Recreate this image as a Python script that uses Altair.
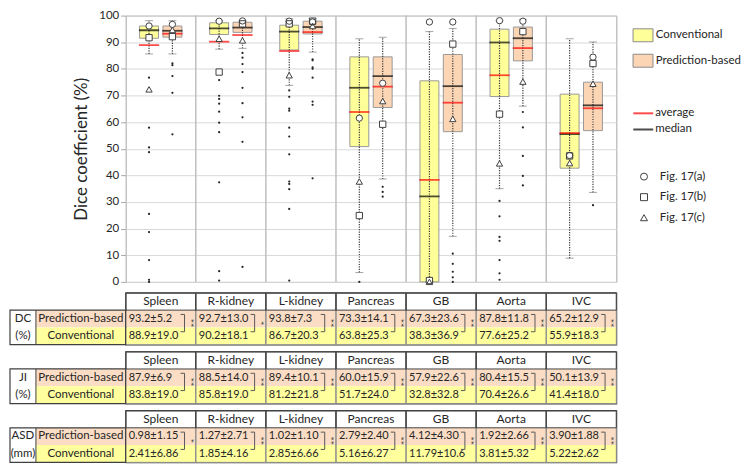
import altair as alt
import pandas as pd

FONT = "Lato"
organs = ["Spleen", "R-kidney", "L-kidney", "Pancreas", "GB", "Aorta", "IVC"]
methods = ["Conventional", "Prediction-based"]
stats_names = ["average", "median"]
figs = ["Fig. 17(a)", "Fig. 17(b)", "Fig. 17(c)"]
fig_shapes = ["circle", "square", "triangle-up"]

# ---- box-plot statistics (Dice coefficient, %) ----
conv_whisker_low = [85.6, 87.4, 73.8, 3.5, 0.0, 35.0, 8.9]
conv_q1 = [91.5, 92.9, 87.1, 50.8, 0.0, 69.6, 42.7]
conv_median = [94.5, 95.2, 94.0, 72.9, 32.1, 89.9, 55.5]
conv_q3 = [96.1, 97.3, 96.4, 84.5, 75.5, 94.9, 70.5]
conv_whisker_high = [98.1, 98.1, 98.8, 91.3, 94.0, 98.1, 91.3]
conv_average = [88.9, 90.2, 86.7, 63.8, 38.3, 77.6, 55.9]

pred_whisker_low = [85.6, 87.7, 86.3, 38.6, 17.1, 66.0, 33.6]
pred_q1 = [91.9, 93.7, 93.1, 65.5, 56.4, 83.0, 56.8]
pred_median = [94.3, 95.5, 95.7, 77.3, 73.5, 91.5, 66.3]
pred_q3 = [96.1, 97.5, 97.9, 84.5, 85.4, 95.7, 75.0]
pred_whisker_high = [98.1, 97.9, 99.0, 91.9, 95.2, 98.5, 90.1]
pred_average = [93.2, 92.7, 93.8, 73.3, 67.3, 87.8, 65.2]

# ---- cases shown in Fig. 17 ----
conv_fig_a = [96.1, 97.9, 97.9, 61.5, 97.6, 98.1, 47.5]
conv_fig_b = [91.7, 78.8, 96.9, 24.9, 0.5, 63.0, 47.3]
conv_fig_c = [72.3, 91.3, 77.6, 37.7, 0.0, 44.5, 44.6]
pred_fig_a = [96.7, 98.0, 97.6, 74.6, 97.6, 97.9, 84.4]
pred_fig_b = [92.1, 96.9, 97.9, 59.2, 89.3, 94.0, 82.0]
pred_fig_c = [94.6, 90.7, 96.1, 67.9, 61.2, 75.2, 74.4]

# ---- individual cases outside the whiskers ----
conv_outliers = {
    "Spleen": [76.7, 57.9, 50.5, 48.7, 25.5, 18.7, 8.2, 0.8, 0.0],
    "R-kidney": [75.8, 69.9, 68.7, 66.9, 63.9, 59.8, 56.2, 37.4, 4.0, 0.5],
    "L-kidney": [71.9, 69.5, 65.1, 64.3, 57.9, 54.6, 47.9, 37.7, 36.8, 34.8, 27.4, 0.5],
    "Pancreas": [0.0],
    "GB": [],
    "Aorta": [30.4, 24.6, 16.9, 15.4, 8.2, 3.2, 0.8],
    "IVC": [],
}
pred_outliers = {
    "Spleen": [82.1, 81.4, 77.3, 71.0, 55.4],
    "R-kidney": [86.0, 84.2, 81.8, 78.8, 72.9, 67.1, 61.8, 52.6, 5.6],
    "L-kidney": [83.6, 83.2, 80.6, 80.0, 76.7, 67.7, 66.5, 38.9],
    "Pancreas": [35.7, 33.8, 32.0],
    "GB": [10.6, 6.8, 3.8, 1.7, 0.0],
    "Aorta": [63.8, 58.0, 47.3, 39.8, 36.2],
    "IVC": [28.8],
}

# ---- tables ----
dc_pred = ["93.2±5.2", "92.7±13.0", "93.8±7.3", "73.3±14.1", "67.3±23.6", "87.8±11.8", "65.2±12.9"]
dc_conv = ["88.9±19.0", "90.2±18.1", "86.7±20.3", "63.8±25.3", "38.3±36.9", "77.6±25.2", "55.9±18.3"]
dc_sig = ["**", "*", "**", "**", "**", "**", "**"]
ji_pred = ["87.9±6.9", "88.5±14.0", "89.4±10.1", "60.0±15.9", "57.9±22.6", "80.4±15.5", "50.1±13.9"]
ji_conv = ["83.8±19.0", "85.8±19.0", "81.2±21.8", "51.7±24.0", "32.8±32.8", "70.4±26.6", "41.4±18.0"]
ji_sig = ["**", "**", "**", "**", "**", "**", "**"]
asd_pred = ["0.98±1.15", "1.27±2.71", "1.02±1.10", "2.79±2.40", "4.12±4.30", "1.92±2.66", "3.90±1.88"]
asd_conv = ["2.41±6.86", "1.85±4.16", "2.85±6.66", "5.16±6.27", "11.79±10.6", "3.81±5.32", "5.22±2.62"]
asd_sig = ["*", "**", "**", "**", "**", "**", "**"]

YELLOW = "#FFFF99"
PEACH = "#FCD5B4"
ROW_PEACH = "#FBDDC5"
ROW_YELLOW = "#FFFF9E"
DARK = "#404040"
TEXT = "#262626"
W = 492

# ---------------- build frames ----------------
box_rows, stat_rows, fig_rows, dot_rows = [], [], [], []
for i, o in enumerate(organs):
    box_rows.append(dict(organ=o, method="Conventional", wlo=conv_whisker_low[i], q1=conv_q1[i],
                         q3=conv_q3[i], whi=conv_whisker_high[i]))
    box_rows.append(dict(organ=o, method="Prediction-based", wlo=pred_whisker_low[i], q1=pred_q1[i],
                         q3=pred_q3[i], whi=pred_whisker_high[i]))
for name, cv, pv in [("median", conv_median, pred_median), ("average", conv_average, pred_average)]:
    for i, o in enumerate(organs):
        stat_rows.append(dict(organ=o, method="Conventional", stat=name, value=cv[i]))
        stat_rows.append(dict(organ=o, method="Prediction-based", stat=name, value=pv[i]))
for f, cv, pv in [(figs[0], conv_fig_a, pred_fig_a), (figs[1], conv_fig_b, pred_fig_b), (figs[2], conv_fig_c, pred_fig_c)]:
    for i, o in enumerate(organs):
        fig_rows.append(dict(organ=o, method="Conventional", fig=f, value=cv[i]))
        fig_rows.append(dict(organ=o, method="Prediction-based", fig=f, value=pv[i]))
for m, d in [("Conventional", conv_outliers), ("Prediction-based", pred_outliers)]:
    for o in organs:
        for v in d[o]:
            dot_rows.append(dict(organ=o, method=m, value=v))
boxes = pd.DataFrame(box_rows)
caps_df = pd.DataFrame([dict(organ=r["organ"], method=r["method"], v=r[k]) for r in box_rows for k in ("wlo", "whi")])
stat_df = pd.DataFrame(stat_rows)
fig_df = pd.DataFrame(fig_rows)
dot_df = pd.DataFrame(dot_rows)
sep_df = pd.DataFrame({"organ": organs[1:]})

xscale = alt.Scale(domain=organs, paddingInner=0, paddingOuter=0)
Xm = alt.X("organ:N", scale=xscale, axis=None)
XO = alt.XOffset("method:N", scale=alt.Scale(domain=methods, paddingInner=0.19, paddingOuter=0.595))
ys = alt.Scale(domain=[0, 100], nice=False)

yaxis = alt.Axis(values=list(range(0, 101, 10)), title="Dice coefficient (%)", titleFontSize=17,
                 titleFontWeight="normal", titleColor=TEXT, titleFont=FONT, titlePadding=8,
                 labelFontSize=11.5, labelColor=TEXT, labelFont=FONT, labelPadding=2, labelOverlap=False,
                 grid=True, gridColor="#D9D9D9", domain=False, tickSize=5, tickColor="#A6A6A6")


def Yv(field):
    return alt.Y(field, scale=ys, axis=yaxis)


LX = 509
sep = alt.Chart(sep_df).mark_rule(color="#BFBFBF", strokeWidth=1.5).encode(
    x=alt.X("organ:N", scale=xscale, axis=None, bandPosition=0))

box = alt.Chart(boxes).mark_bar(stroke="#9A9A9A", strokeWidth=1).encode(
    x=Xm, xOffset=XO, y=Yv("q1:Q"), y2="q3:Q",
    fill=alt.Fill("method:N", scale=alt.Scale(domain=methods, range=[YELLOW, PEACH]),
                  legend=alt.Legend(title=None, orient="none", legendX=LX + 4, legendY=14,
                                    symbolType="M-2,-1.3H2V1.3H-2Z", symbolSize=100,
                                    symbolStrokeColor="#8C8C8C", symbolStrokeWidth=1,
                                    rowPadding=7.5, labelOffset=7, padding=0)))

whisk = alt.Chart(boxes).mark_rule(color="#3A3A3A", strokeWidth=1.2, strokeDash=[1.2, 1.3]).encode(
    x=Xm, xOffset=XO, y=Yv("wlo:Q"), y2="whi:Q")

caps = alt.Chart(caps_df).mark_tick(color="#7F7F7F", size=8, thickness=1).encode(
    x=Xm, xOffset=XO, y=Yv("v:Q"))

dots = alt.Chart(dot_df).mark_circle(size=5, color=TEXT, opacity=1).encode(
    x=Xm, xOffset=XO, y=Yv("value:Q"))

stat_marks = alt.Chart(stat_df).mark_tick(filled=False, size=19, thickness=0.5, strokeWidth=1.3).encode(
    x=Xm, xOffset=XO, y=Yv("value:Q"),
    stroke=alt.Stroke("stat:N", scale=alt.Scale(domain=stats_names, range=["#FF0000", "#000000"]),
                      legend=alt.Legend(title=None, orient="none", legendX=LX + 4, legendY=92,
                                        symbolType="M-2,0H2", symbolSize=100, symbolStrokeWidth=2,
                                        rowPadding=4.2, labelOffset=6, padding=0)))

# white interiors of the Fig. 17 markers (one layer per marker shape)
fig_fill_layers = [
    alt.Chart(fig_df).transform_filter(alt.datum.fig == f).mark_point(
        shape=s, filled=True, color="white", size=40, opacity=1).encode(x=Xm, xOffset=XO, y=Yv("value:Q"))
    for f, s in zip(figs, fig_shapes)
]
fig_marks = alt.Chart(fig_df).mark_point(filled=False, color=DARK, strokeWidth=1, size=40, opacity=1).encode(
    x=Xm, xOffset=XO, y=Yv("value:Q"),
    shape=alt.Shape("fig:N", scale=alt.Scale(domain=figs, range=fig_shapes),
                    legend=alt.Legend(title=None, orient="none", legendX=LX + 5, legendY=155.7,
                                      symbolSize=49, symbolStrokeWidth=1, rowPadding=7.6,
                                      labelOffset=10, padding=0)))

main = alt.layer(sep, box, whisk, dots, caps, stat_marks, *fig_fill_layers, fig_marks).properties(
    width=W, height=267, view=alt.ViewBackground(stroke="#A6A6A6", strokeWidth=1))


def make_table(pred_vals, conv_vals, sig, label_lines):
    recs = []
    for i, o in enumerate(organs):
        recs.append({"organ": o, "row": "hdr", "r0": 0, "r1": 1, "text": o, "sig": sig[i]})
        recs.append({"organ": o, "row": "Prediction-based", "r0": 1, "r1": 2, "text": pred_vals[i], "sig": sig[i]})
        recs.append({"organ": o, "row": "Conventional", "r0": 2, "r1": 3, "text": conv_vals[i], "sig": sig[i]})
    cells = pd.DataFrame(recs)
    labels = pd.DataFrame({"row": methods[::-1], "r0": [1, 2], "r1": [2, 3], "text": methods[::-1],
                           "title": label_lines})
    yq = alt.Scale(domain=[0, 3], reverse=True, nice=False, zero=False)
    X = alt.X("organ:N", scale=xscale, axis=None)
    X0 = alt.X("organ:N", scale=xscale, axis=None, bandPosition=0)
    Y = alt.Y("r0:Q", scale=yq, axis=None)
    Ym = alt.Y("ymid:Q", scale=yq, axis=None)

    def Yd(v):
        return alt.Y(datum=v, scale=yq, axis=None)

    base = alt.Chart(cells).transform_calculate(ymid="(datum.r0 + datum.r1) / 2")
    hdr = base.transform_filter("datum.row == 'hdr'")
    body = base.transform_filter("datum.row != 'hdr'")
    pred_cells = base.transform_filter("datum.row == 'Prediction-based'")
    conv_cells = base.transform_filter("datum.row == 'Conventional'")
    lab = alt.Chart(labels).transform_calculate(ymid="(datum.r0 + datum.r1) / 2")
    lab_pred = lab.transform_filter("datum.row == 'Prediction-based'")
    lab_conv = lab.transform_filter("datum.row == 'Conventional'")

    layers = [
        pred_cells.mark_rect(fill=ROW_PEACH).encode(x=X, y=Y, y2="r1:Q"),
        conv_cells.mark_rect(fill=ROW_YELLOW).encode(x=X, y=Y, y2="r1:Q"),
        lab_pred.mark_rect(fill=ROW_PEACH).encode(x=alt.value(-90), x2=alt.value(0), y=Y, y2="r1:Q"),
        lab_conv.mark_rect(fill=ROW_YELLOW).encode(x=alt.value(-90), x2=alt.value(0), y=Y, y2="r1:Q"),
        hdr.mark_rect(filled=False, stroke="#8C8C8C", strokeWidth=1).encode(x=X, y=Yd(0), y2=alt.Y2(datum=3)),
        hdr.mark_rect(filled=False, stroke=DARK, strokeWidth=1).encode(x=X, y=Y, y2="r1:Q"),
        lab_pred.mark_rect(filled=False, stroke=DARK, strokeWidth=1.2).encode(
            x=alt.value(-116), x2=alt.value(0), y=Yd(1), y2=alt.Y2(datum=3)),
        lab_pred.mark_rule(stroke=DARK, strokeWidth=1).encode(x=alt.value(-90), y=Yd(1), y2=alt.Y2(datum=3)),
        hdr.mark_text(fontSize=12, color=TEXT).encode(x=X, y=Ym, text="text:N"),
        body.mark_text(fontSize=11, color=TEXT, align="left", dx=3).encode(x=X0, y=Ym, text="text:N"),
        lab.mark_text(fontSize=11.5, color=TEXT).encode(x=alt.value(-45), y=Ym, text="text:N"),
        lab.mark_text(fontSize=11.5, color=TEXT).encode(x=alt.value(-103), y=Ym, text="title:N"),
        hdr.mark_rule(xOffset=59, stroke="#595959", strokeWidth=1).encode(x=X0, y=Yd(1.25), y2=alt.Y2(datum=2.25)),
        hdr.mark_rule(xOffset=55, x2Offset=59, stroke="#595959", strokeWidth=1).encode(
            x=X0, x2=alt.X2("organ:N", bandPosition=0), y=Yd(1.25)),
        hdr.mark_rule(xOffset=55, x2Offset=59, stroke="#595959", strokeWidth=1).encode(
            x=X0, x2=alt.X2("organ:N", bandPosition=0), y=Yd(2.25)),
        hdr.mark_text(fontSize=10, angle=90, xOffset=64, align="center", baseline="middle",
                      color=TEXT).encode(x=X0, y=Yd(1.75), text="sig:N"),
    ]
    return alt.layer(*layers).properties(
        width=W, height=52, view=alt.ViewBackground(stroke=DARK, strokeWidth=1.2))


t_dc = make_table(dc_pred, dc_conv, dc_sig, ["DC", "(%)"])
t_ji = make_table(ji_pred, ji_conv, ji_sig, ["JI", "(%)"])
t_asd = make_table(asd_pred, asd_conv, asd_sig, ["ASD", "(mm)"])

chart = alt.vconcat(main, t_dc, t_ji, t_asd, spacing=3).resolve_scale(
    xOffset="independent", fill="independent", stroke="independent", shape="independent"
).properties(padding=0).configure(font=FONT).configure_legend(
    labelFont=FONT, labelFontSize=11.5, labelColor=TEXT)

chart.save("out.html", embed_options={"renderer": "svg", "actions": False})
